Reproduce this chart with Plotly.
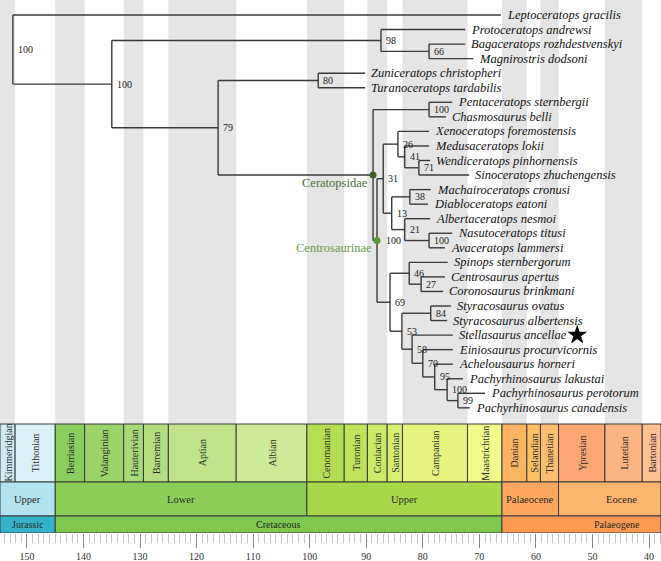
import plotly.graph_objects as go

# ---------------- data ----------------
taxa = [
    "Leptoceratops gracilis", "Protoceratops andrewsi", "Bagaceratops rozhdestvenskyi",
    "Magnirostris dodsoni", "Zuniceratops christopheri", "Turanoceratops tardabilis",
    "Pentaceratops sternbergii", "Chasmosaurus belli", "Xenoceratops foremostensis",
    "Medusaceratops lokii", "Wendiceratops pinhornensis", "Sinoceratops zhuchengensis",
    "Machairoceratops cronusi", "Diabloceratops eatoni", "Albertaceratops nesmoi",
    "Nasutoceratops titusi", "Avaceratops lammersi", "Spinops sternbergorum",
    "Centrosaurus apertus", "Coronosaurus brinkmani", "Styracosaurus ovatus",
    "Styracosaurus albertensis", "Stellasaurus ancellae", "Einiosaurus procurvicornis",
    "Achelousaurus horneri", "Pachyrhinosaurus lakustai", "Pachyrhinosaurus perotorum",
    "Pachyrhinosaurus canadensis",
]
tip_ages = [66.2, 72.5, 72.5, 71.1, 90.2, 90.2, 74.8, 75.9, 78.9, 78.9, 78.7, 71.8,
            78.6, 79.1, 78.7, 74.8, 76.1, 75.6, 76.1, 76.4, 75.0, 75.7, 74.7, 74.7,
            74.7, 72.9, 69.0, 71.7]

node_names = ["n99", "n100p", "n95", "n70", "n58", "n84", "n53", "n27", "n46", "n69",
              "n100na", "n21", "n38", "n13", "n71", "n41", "n26", "n31", "Centrosaurinae",
              "Chasmo", "Ceratopsidae", "n80", "n79", "n66", "n98", "nA", "root"]
node_children = [
    ("Pachyrhinosaurus perotorum", "Pachyrhinosaurus canadensis"),
    ("Pachyrhinosaurus lakustai", "n99"),
    ("Achelousaurus horneri", "n100p"),
    ("Einiosaurus procurvicornis", "n95"),
    ("Stellasaurus ancellae", "n70"),
    ("Styracosaurus ovatus", "Styracosaurus albertensis"),
    ("n84", "n58"),
    ("Centrosaurus apertus", "Coronosaurus brinkmani"),
    ("Spinops sternbergorum", "n27"),
    ("n46", "n53"),
    ("Nasutoceratops titusi", "Avaceratops lammersi"),
    ("Albertaceratops nesmoi", "n100na"),
    ("Machairoceratops cronusi", "Diabloceratops eatoni"),
    ("n38", "n21"),
    ("Wendiceratops pinhornensis", "Sinoceratops zhuchengensis"),
    ("Medusaceratops lokii", "n71"),
    ("Xenoceratops foremostensis", "n41"),
    ("n26", "n13"),
    ("n31", "n69"),
    ("Pentaceratops sternbergii", "Chasmosaurus belli"),
    ("Chasmo", "Centrosaurinae"),
    ("Zuniceratops christopheri", "Turanoceratops tardabilis"),
    ("n80", "Ceratopsidae"),
    ("Bagaceratops rozhdestvenskyi", "Magnirostris dodsoni"),
    ("Protoceratops andrewsi", "n66"),
    ("n98", "n79"),
    ("Leptoceratops gracilis", "nA"),
]
node_ages = [73.8, 75.7, 77.9, 80.0, 81.9, 78.6, 83.7, 80.3, 82.4, 85.8,
             78.9, 83.2, 82.3, 85.5, 80.7, 83.2, 84.4, 87.0, 88.1,
             78.9, 88.8, 98.5, 116.2, 78.9, 87.4, 135.0, 152.5]
node_support = ["99", "100", "95", "70", "58", "84", "53", "27", "46", "69",
                "100", "21", "38", "13", "71", "41", "26", "31", "100",
                "100", "", "80", "79", "66", "98", "100", "100"]

clade_names = ["Ceratopsidae", "Centrosaurinae"]
star_taxon = "Stellasaurus ancellae"
star_age = 52.7

stage_names = ["Kimmeridgian", "Tithonian", "Berriasian", "Valanginian", "Hauterivian",
               "Barremian", "Aptian", "Albian", "Cenomanian", "Turonian", "Coniacian",
               "Santonian", "Campanian", "Maastrichtian", "Danian", "Selandian",
               "Thanetian", "Ypresian", "Lutetian", "Bartonian"]
stage_start = [157.3, 152.1, 145.0, 139.8, 132.9, 129.4, 125.0, 113.0, 100.5, 93.9,
               89.8, 86.3, 83.6, 72.1, 66.0, 61.6, 59.2, 56.0, 47.8, 41.2]
stage_end = [152.1, 145.0, 139.8, 132.9, 129.4, 125.0, 113.0, 100.5, 93.9, 89.8,
             86.3, 83.6, 72.1, 66.0, 61.6, 59.2, 56.0, 47.8, 41.2, 37.8]
stage_colors = ["#CCECF4", "#D9F1F7", "#8CCD60", "#99D36A", "#A6D977", "#B3DF7F",
                "#BFE48A", "#CCEA97", "#B3DE53", "#BFE35D", "#CCE968", "#D9EF74",
                "#E6F47F", "#F2FA8C", "#FDB462", "#FEBF65", "#FDBF6F", "#FCA773",
                "#FCB482", "#FDC091"]

epoch_names = ["Upper", "Lower", "Upper", "Palaeocene", "Eocene"]
epoch_start = [163.5, 145.0, 100.5, 66.0, 56.0]
epoch_end = [145.0, 100.5, 66.0, 56.0, 33.9]
epoch_colors = ["#B3E3EE", "#8CCD57", "#A6D84A", "#FDA75F", "#FDB46C"]

period_names = ["Jurassic", "Cretaceous", "Palaeogene"]
period_start = [201.3, 145.0, 66.0]
period_end = [145.0, 66.0, 23.03]
period_colors = ["#34B2C9", "#7FC64E", "#FD9A52"]

tick_values = [150, 140, 130, 120, 110, 100, 90, 80, 70, 60, 50, 40]
tick_labels = [str(v) for v in tick_values]

# ---------------- layout constants ----------------
X_OLD, X_YOUNG = 154.77, 37.88
W, H = 661, 561
PLOT_BOTTOM = 533
TIP_Y0, TIP_DY = 15.0, 14.55
BAND_BOTTOM = 424
STAGE_TOP, EPOCH_TOP, PERIOD_TOP, PERIOD_BOT = 424, 482, 516, 533
SERIF = "Liberation Serif"
LINE_COL = "#3a3a3a"

fig = go.Figure()
shapes = []
annotations = []

def clip(a, b):
    return min(a, X_OLD), max(b, X_YOUNG)

# grey alternating bands
for i, (s, e) in enumerate(zip(stage_start, stage_end)):
    if i % 2 == 0:
        s2, e2 = clip(s, e)
        shapes.append(dict(type="rect", xref="x", yref="y", x0=s2, x1=e2, y0=0, y1=BAND_BOTTOM,
                           fillcolor="#e5e5e5", line=dict(width=0), layer="below"))

# tree
pos_y = {}
pos_age = {}
for i, (t, a) in enumerate(zip(taxa, tip_ages)):
    pos_y[t] = TIP_Y0 + TIP_DY * i
    pos_age[t] = a
for n, ch, a in zip(node_names, node_children, node_ages):
    pos_y[n] = (pos_y[ch[0]] + pos_y[ch[1]]) / 2
    pos_age[n] = a

lx, ly = [], []
for n, ch, a in zip(node_names, node_children, node_ages):
    lx += [a, a, None]
    ly += [pos_y[ch[0]], pos_y[ch[1]], None]
    for c in ch:
        lx += [a, pos_age[c], None]
        ly += [pos_y[c], pos_y[c], None]
fig.add_trace(go.Scatter(x=lx, y=ly, mode="lines", line=dict(color=LINE_COL, width=1.4),
                         hoverinfo="skip"))

# tip labels
for t, a in zip(taxa, tip_ages):
    annotations.append(dict(x=a, y=pos_y[t], xref="x", yref="y", text=t, showarrow=False,
                            xanchor="left", yanchor="middle", xshift=4,
                            font=dict(family=SERIF, size=12.5, color="#111", style="italic")))

# support values
for n, a, s in zip(node_names, node_ages, node_support):
    if s:
        xs = 7 if n == "Centrosaurinae" else 3
        annotations.append(dict(x=a, y=pos_y[n], xref="x", yref="y", text=s, showarrow=False,
                                xanchor="left", yanchor="middle", xshift=xs, yshift=0,
                                font=dict(family=SERIF, size=10, color="#222")))

# clade dots and labels
clade_dot_cols = ["#3d5f2a", "#5c9a36"]
clade_txt_cols = ["#4f6e3a", "#6a9a4a"]
for c, dc, tc in zip(clade_names, clade_dot_cols, clade_txt_cols):
    fig.add_trace(go.Scatter(x=[pos_age[c]], y=[pos_y[c]], mode="markers",
                             marker=dict(size=7, color=dc), hoverinfo="skip"))
    annotations.append(dict(x=pos_age[c], y=pos_y[c], xref="x", yref="y", text=c,
                            showarrow=False, xanchor="right", yanchor="middle",
                            xshift=-3, yshift=-8,
                            font=dict(family=SERIF, size=12.5, color=tc)))

# star
fig.add_trace(go.Scatter(x=[star_age], y=[pos_y[star_taxon]], mode="markers",
                         marker=dict(symbol="star", size=15, color="black"), hoverinfo="skip"))

# timescale rows
def add_row(names, starts, ends, colors, y0, y1, size, angle, overrides=None):
    for nm, s, e, col in zip(names, starts, ends, colors):
        s2, e2 = clip(s, e)
        if s2 <= e2:
            continue
        shapes.append(dict(type="rect", xref="x", yref="y", x0=s2, x1=e2, y0=y0, y1=y1,
                           fillcolor=col, line=dict(color="#3a3a3a", width=1), layer="above"))
        xm = (s2 + e2) / 2
        if overrides and nm in overrides:
            xm = overrides[nm]
        annotations.append(dict(x=xm, y=(y0 + y1) / 2, xref="x", yref="y", text=nm,
                                showarrow=False, textangle=angle, xanchor="center",
                                yanchor="middle",
                                font=dict(family=SERIF, size=size, color="#2a2a2a")))

add_row(stage_names, stage_start, stage_end, stage_colors, STAGE_TOP, EPOCH_TOP, 10, -90)
add_row(epoch_names, epoch_start, epoch_end, epoch_colors, EPOCH_TOP, PERIOD_TOP, 10.5, 0,
        {"Eocene": 44.95})
add_row(period_names, period_start, period_end, period_colors, PERIOD_TOP, PERIOD_BOT, 10, 0,
        {"Palaeogene": 45.7})

fig.update_layout(
    width=W, height=H, margin=dict(l=0, r=0, t=0, b=H - PLOT_BOTTOM, pad=0),
    paper_bgcolor="white", plot_bgcolor="white", showlegend=False,
    shapes=shapes, annotations=annotations,
    xaxis=dict(range=[X_OLD, X_YOUNG], showgrid=False, zeroline=False, showline=False,
               ticks="outside", ticklen=14, tickwidth=1, tickcolor="#888",
               tickmode="array", tickvals=tick_values, ticktext=tick_labels,
               tickfont=dict(family=SERIF, size=10, color="#333"),
               minor=dict(tickmode="linear", tick0=0, dtick=1, ticks="outside",
                          ticklen=9, tickwidth=1, tickcolor="#c4c4c4", showgrid=False)),
    yaxis=dict(range=[PLOT_BOTTOM, 0], visible=False, showgrid=False, zeroline=False),
)

fig.write_html("out.html", config={"displayModeBar": False},
               post_script="document.body.style.margin='0';document.body.style.padding='0';")
